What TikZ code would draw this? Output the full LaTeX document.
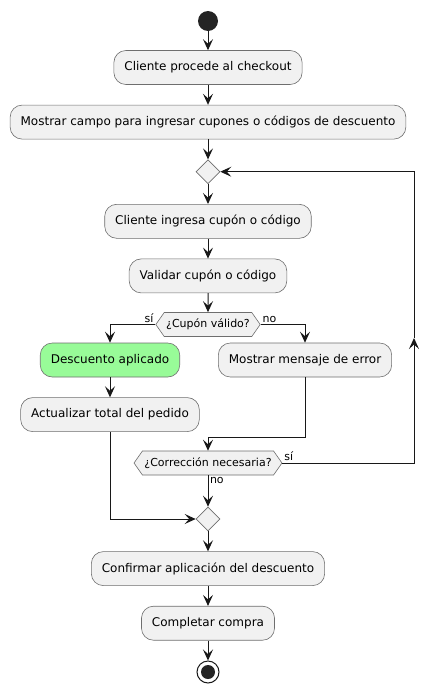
\documentclass[tikz,border=0pt]{standalone}
\usepackage{fontspec}
\setmainfont{DejaVu Sans}
\usetikzlibrary{shapes.geometric, shapes.symbols, arrows.meta, positioning}
\definecolor{boxfill}{HTML}{F1F1F1}
\definecolor{okgreen}{HTML}{98FB98}
\definecolor{linedark}{HTML}{181818}
\definecolor{bordergray}{HTML}{6E6E6E}
\tikzstyle{block} = [rectangle, rounded corners=12pt, draw=bordergray, fill=boxfill, line width=0.6pt, minimum height=34pt, inner xsep=10.5pt, text centered, font=\fontsize{12}{14}\selectfont]
\tikzstyle{decision} = [signal, signal to=west and east, signal from=nowhere, signal pointer angle=110, draw=bordergray, fill=boxfill, line width=0.6pt, minimum height=24pt, inner xsep=2pt, font=\fontsize{11}{13}\selectfont]
\tikzstyle{merge} = [diamond, draw=bordergray, fill=boxfill, line width=0.6pt, minimum size=24pt, inner sep=0pt]
\tikzstyle{arrow} = [line width=1pt, draw=linedark, -{Stealth[length=11pt, width=10pt, inset=4.5pt]}]
\tikzstyle{branch} = [font=\fontsize{11}{13}\selectfont, inner sep=1.5pt]

\begin{document}
\begin{tikzpicture}[x=1pt, y=-1pt, node distance = 20pt]
		\useasboundingbox (0,0) rectangle (439,691);
		\node (Start) [circle, fill=linedark!95, minimum size=20pt, inner sep=0pt] at (208,21) {};
		\node (Checkout) [block, below = 19pt of Start] {Cliente procede al checkout};
		\node (Field) [block, below = of Checkout] {Mostrar campo para ingresar cupones o códigos de descuento};
		\node (Retry) [merge, below = of Field] {};
		\node (Enter) [block, below = of Retry] {Cliente ingresa cupón o código};
		\node (Check) [block, below = of Enter] {Validar cupón o código};
		\node (Valid) [decision, below = 19pt of Check] {¿Cupón válido?};
		\node (Applied) [block, fill=okgreen] at (110,360) {Descuento aplicado};
		\node (Total) [block, below = of Applied] {Actualizar total del pedido};
		\node (Error) [block] at (305,360) {Mostrar mensaje de error};
		\node (Fix) [decision] at (208,463) {¿Corrección necesaria?};
		\node (Join) [merge] at (208,519) {};
		\node (Confirm) [block, below = of Join] {Confirmar aplicación del descuento};
		\node (Done) [block, below = of Confirm] {Completar compra};
		\node (Stop) [circle, draw=linedark, line width=1pt, fill=white, minimum size=22pt, below = of Done] {};
		\node (StopDot) [circle, fill=linedark!95, minimum size=14pt, inner sep=0pt] at (Stop) {};
		\coordinate (ErrorDown) at (208,437);
		\coordinate (LoopMid) at (414,338);
		\draw [arrow] (Start) -- (Checkout);
		\draw [arrow] (Checkout) -- (Field);
		\draw [arrow] (Field) -- (Retry);
		\draw [arrow] (Retry) -- (Enter);
		\draw [arrow] (Enter) -- (Check);
		\draw [arrow] (Check) -- (Valid);
		\draw [arrow] (Valid.west) node[branch, above left]{sí} -| (Applied.north);
		\draw [arrow] (Valid.east) node[branch, above right]{no} -| (Error.north);
		\draw [arrow] (Applied) -- (Total);
		\draw [arrow] (Error.south) |- (ErrorDown) -- (Fix.north);
		\draw [arrow] (Fix.east) node[branch, above right]{sí} -| (LoopMid);
		\draw [arrow] (LoopMid) |- (Retry.east);
		\draw [arrow] (Fix.south) node[branch, below right]{no} -- (Join.north);
		\draw [arrow] (Total.south) |- (Join.west);
		\draw [arrow] (Join) -- (Confirm);
		\draw [arrow] (Confirm) -- (Done);
		\draw [arrow] (Done) -- (Stop);
	\end{tikzpicture}
\end{document}
